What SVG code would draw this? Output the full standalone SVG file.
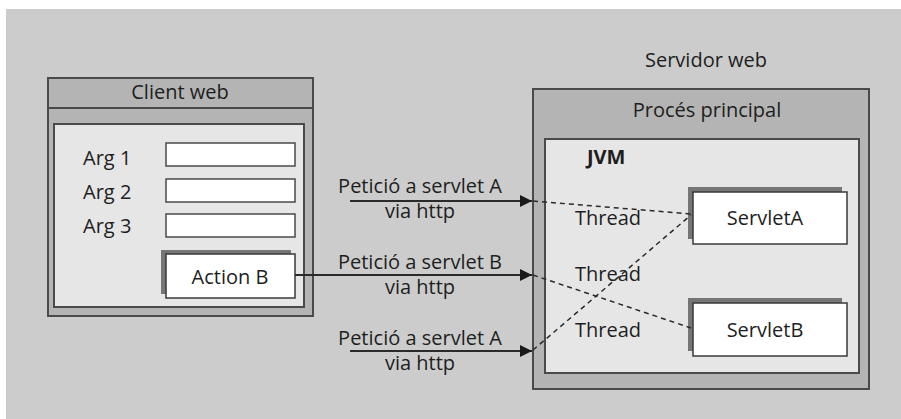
<svg xmlns="http://www.w3.org/2000/svg" width="901" height="419" viewBox="0 0 901 419">
  <style>
    text { font-family: "Open Sans", "Noto Sans", "DejaVu Sans", sans-serif; fill: #1e1e1e; font-size: 20px; }
    .mid { text-anchor: middle; }
    .frame { fill: #b4b4b4; stroke: #4a4a4a; stroke-width: 2; }
    .panel { fill: #e6e6e6; stroke: #4a4a4a; stroke-width: 2; }
    .field { fill: #ffffff; stroke: #4a4a4a; stroke-width: 1.5; }
    .shadow { fill: #767676; }
    .box { fill: #ffffff; stroke: #3a3a3a; stroke-width: 1.5; }
    .req { stroke: #2a2a2a; stroke-width: 2; fill: none; marker-end: url(#tip); }
    .thread { stroke: #2a2a2a; stroke-width: 1.5; stroke-dasharray: 5 4; fill: none; }
  </style>
  <defs>
    <marker id="tip" viewBox="0 0 12 12" refX="12" refY="6" markerWidth="12" markerHeight="12" markerUnits="userSpaceOnUse" orient="auto">
      <path d="M0,0 L12,6 L0,12 Z" fill="#1a1a1a"/>
    </marker>
  </defs>

  <!-- backdrop -->
  <rect x="6" y="9" width="895" height="410" fill="#cccccc"/>

  <!-- web client window -->
  <g id="client-web">
    <rect class="frame" x="48" y="78" width="265" height="238"/>
    <line x1="48" y1="108" x2="313" y2="108" stroke="#4a4a4a" stroke-width="2"/>
    <text class="mid" x="180" y="99" font-size="21">Client web</text>
    <rect class="panel" x="54" y="124" width="250" height="183"/>
    <text x="83" y="165">Arg 1</text>
    <text x="83" y="199">Arg 2</text>
    <text x="83" y="233">Arg 3</text>
    <rect class="field" x="166" y="143" width="129" height="23"/>
    <rect class="field" x="166" y="179" width="129" height="23"/>
    <rect class="field" x="166" y="214" width="129" height="23"/>
  </g>

  <g id="action-b">
    <rect class="shadow" x="161" y="250" width="130" height="44"/>
    <rect class="box" x="166" y="254" width="129" height="44"/>
    <text class="mid" x="230" y="284">Action B</text>
  </g>

  <!-- web server -->
  <g id="servidor-web">
    <text class="mid" x="706" y="67">Servidor web</text>
    <rect class="frame" x="533" y="89" width="336" height="300"/>
    <text class="mid" x="707" y="117">Procés principal</text>
  </g>

  <g id="jvm">
    <rect class="panel" x="545" y="139" width="314" height="234"/>
    <text x="587" y="164" font-weight="bold" font-size="21">JVM</text>
    <text x="575" y="225">Thread</text>
    <text x="575" y="281">Thread</text>
    <text x="575" y="337">Thread</text>
  </g>

  <g id="servlet-a">
    <rect class="shadow" x="688" y="187" width="154" height="52"/>
    <rect class="box" x="693" y="192" width="154" height="52"/>
    <text class="mid" x="765" y="225">ServletA</text>
  </g>

  <g id="servlet-b">
    <rect class="shadow" x="688" y="298" width="154" height="53"/>
    <rect class="box" x="693" y="303" width="154" height="53"/>
    <text class="mid" x="765" y="337">ServletB</text>
  </g>

  <!-- requests and thread links -->
  <g id="connectors">
    <line class="req" x1="350" y1="201" x2="532" y2="201"/>
    <line class="req" x1="295" y1="275" x2="532" y2="275"/>
    <line class="req" x1="350" y1="351" x2="532" y2="351"/>
    <text class="mid" x="420" y="193">Petició a servlet A</text>
    <text class="mid" x="420" y="218">via http</text>
    <text class="mid" x="420" y="269">Petició a servlet B</text>
    <text class="mid" x="420" y="294">via http</text>
    <text class="mid" x="420" y="345">Petició a servlet A</text>
    <text class="mid" x="420" y="370">via http</text>
    <line class="thread" x1="533" y1="201" x2="691" y2="214"/>
    <line class="thread" x1="533" y1="275" x2="691" y2="328"/>
    <line class="thread" x1="533" y1="350" x2="691" y2="215"/>
  </g>
</svg>
